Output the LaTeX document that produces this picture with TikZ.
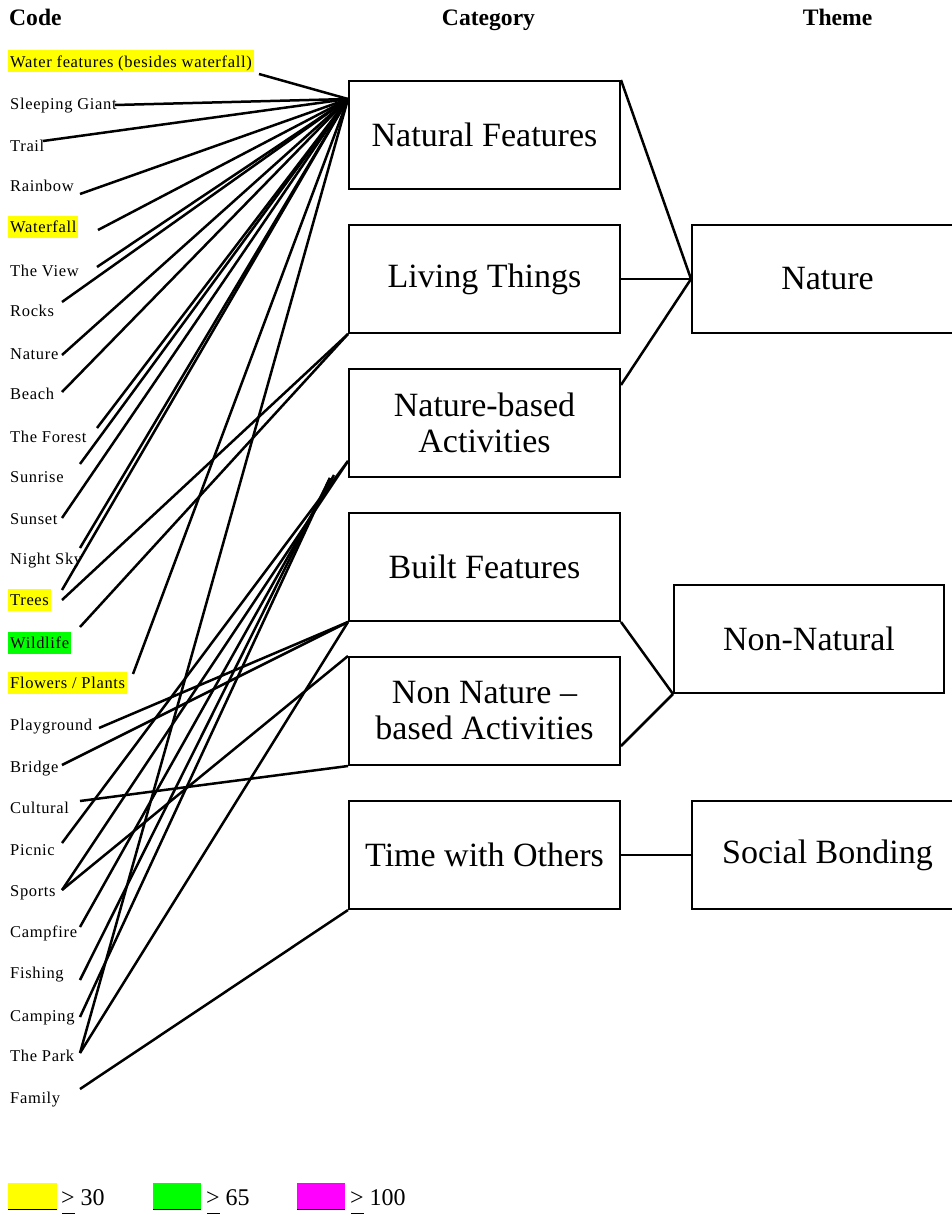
\documentclass[tikz,border=0pt]{standalone}
\usepackage{fontspec}
\setmainfont{Liberation Serif}
\newfontfamily\codefont[LetterSpace=4]{Liberation Serif}
\usetikzlibrary{calc}

\definecolor{hlyellow}{RGB}{255,255,0}
\definecolor{hlgreen}{RGB}{0,255,0}
\definecolor{hlmagenta}{RGB}{255,0,255}

\tikzset{
  catbox/.style={draw, line width=2pt, minimum width=271pt, minimum height=108pt,
    inner sep=0pt, align=center, font=\fontsize{34}{36}\selectfont},
  codelabel/.style={anchor=base west, inner xsep=2pt, inner ysep=1pt,
    text height=15.5pt, text depth=4.5pt, font=\codefont\fontsize{16.5}{18}\selectfont},
  header/.style={anchor=base, font=\bfseries\fontsize{23.6}{26}\selectfont},
  link/.style={line width=2.5pt},
  legendtext/.style={anchor=base west, inner sep=0pt, font=\fontsize{24}{26}\selectfont}
}

\begin{document}
\begin{tikzpicture}[x=1pt,y=-1pt]
\useasboundingbox (0,0) rectangle (952,1215);
\clip (0,0) rectangle (952,1215);

% column headers
\node[header, anchor=base west, inner sep=0pt] (hcode) at (9,26) {Code};
\node[header] (hcat) at (488.5,26) {Category};
\node[header] (htheme) at (837.5,26) {Theme};

% code labels
\node[codelabel, fill=hlyellow] (water) at (8,67) {Water features (besides waterfall)};
\node[codelabel] (giant) at (8,109.5) {Sleeping Giant};
\node[codelabel] (trail) at (8,151.5) {Trail};
\node[codelabel] (rainbow) at (8,191.5) {Rainbow};
\node[codelabel, fill=hlyellow] (waterfall) at (8,232) {Waterfall};
\node[codelabel] (view) at (8,276.5) {The View};
\node[codelabel] (rocks) at (8,316.5) {Rocks};
\node[codelabel] (nature-c) at (8,359.5) {Nature};
\node[codelabel] (beach) at (8,399.5) {Beach};
\node[codelabel] (forest) at (8,442.5) {The Forest};
\node[codelabel] (sunrise) at (8,482.5) {Sunrise};
\node[codelabel] (sunset) at (8,524.5) {Sunset};
\node[codelabel] (nightsky) at (8,564.5) {Night Sky};
\node[codelabel, fill=hlyellow] (trees) at (8,605.5) {Trees};
\node[codelabel, fill=hlgreen] (wildlife) at (8,648) {Wildlife};
\node[codelabel, fill=hlyellow] (flowers) at (8,688.5) {Flowers / Plants};
\node[codelabel] (playground) at (8,730.5) {Playground};
\node[codelabel] (bridge) at (8,772.5) {Bridge};
\node[codelabel] (cultural) at (8,813.5) {Cultural};
\node[codelabel] (picnic) at (8,855.5) {Picnic};
\node[codelabel] (sports) at (8,896.5) {Sports};
\node[codelabel] (campfire) at (8,937.5) {Campfire};
\node[codelabel] (fishing) at (8,978.5) {Fishing};
\node[codelabel] (camping) at (8,1021.5) {Camping};
\node[codelabel] (park) at (8,1061.5) {The Park};
\node[codelabel] (family) at (8,1103.5) {Family};

% category boxes
\node[catbox] (nf) at (484.5,135) {Natural Features};
\node[catbox] (lt) at (484.5,279) {Living Things};
\node[catbox] (nba) at (484.5,423) {Nature-based\\Activities};
\node[catbox] (bf) at (484.5,567) {Built Features};
\node[catbox] (nnba) at (484.5,711) {Non Nature –\\based Activities};
\node[catbox] (two) at (484.5,855) {Time with Others};

% theme boxes
\node[catbox] (nature) at (827.5,279) {Nature};
\node[catbox, minimum width=270pt] (nonnat) at (809,639) {Non-Natural};
\node[catbox] (social) at (827.5,855) {Social Bonding};

% line ends beside the code labels
\coordinate (e-water) at (259,74);
\coordinate (e-giant) at (115,105);
\coordinate (e-trail) at (43,141);
\coordinate (e-rainbow) at (80,194);
\coordinate (e-waterfall) at (98,230);
\coordinate (e-view) at (97,267);
\coordinate (e-rocks) at (62,302);
\coordinate (e-nature) at (62,355);
\coordinate (e-beach) at (62,392);
\coordinate (e-forest) at (97,428);
\coordinate (e-sunrise) at (80,464);
\coordinate (e-sunset) at (62,518);
\coordinate (e-nightsky) at (80,548);
\coordinate (e-trees-a) at (62,590);
\coordinate (e-trees-b) at (62,600);
\coordinate (e-wildlife) at (80,627);
\coordinate (e-flowers) at (133,674);
\coordinate (e-playground) at (99,728);
\coordinate (e-bridge) at (62,765);
\coordinate (e-cultural) at (80,801);
\coordinate (e-picnic) at (62,843);
\coordinate (e-sports) at (62,890);
\coordinate (e-campfire) at (80,927);
\coordinate (e-fishing) at (80,980);
\coordinate (e-camping) at (80,1017);
\coordinate (e-park) at (80,1053);
\coordinate (e-family) at (80,1089);

% meeting points on the category boxes
\coordinate (nf-in) at ($(nf.north west)+(0,19)$);
\coordinate (nba-in) at ($(nba.south west)+(0,-17)$);
\coordinate (nba-low) at ($(nba.south west)+(-18,0)$);

% codes -> Natural Features
\foreach \c in {water,giant,trail,rainbow,waterfall,view,rocks,nature,beach,
                forest,sunrise,sunset,nightsky,trees-a,flowers,park}
  \draw[link] (e-\c) -- (nf-in);

% codes -> Living Things
\draw[link] (e-trees-b) -- (lt.south west);
\draw[link] (e-wildlife) -- (lt.south west);

% codes -> Nature-based Activities
\draw[link] (e-picnic) -- (nba-in);
\draw[link] (e-sports) -- (nba-in);
\draw[link] (e-campfire) -- ($(nba.south west)+(-14,-3)$);
\draw[link] (e-fishing) -- (nba-low);
\draw[link] (e-camping) -- (nba-low);

% codes -> Built Features
\draw[link] (e-playground) -- (bf.south west);
\draw[link] (e-bridge) -- (bf.south west);
\draw[link] (e-park) -- (bf.south west);

% codes -> Non Nature-based Activities
\draw[link] (e-sports) -- (nnba.north west);
\draw[link] (e-cultural) -- (nnba.south west);

% codes -> Time with Others
\draw[link] (e-family) -- (two.south west);

% categories -> themes
\draw[link] (nf.north east) -- (nature.west);
\draw[link] (lt.east) -- (nature.west);
\draw[link] ($(nba.north east)+(0,17)$) -- (nature.west);
\draw[link] (bf.south east) -- (nonnat.south west);
\draw[link] ($(nnba.south east)+(0,-20)$) -- (nonnat.south west);
\draw[link] (two.east) -- (social.west);

% legend
\fill[hlyellow] (8,1183) rectangle (57,1209);
\draw[line width=1pt] (8,1209) -- (57,1209);
\node[legendtext] (l30) at (61,1205) {> 30};
\draw[line width=1.6pt] ($(l30.base west)+(1,8.5)$) -- +(12.5,0);

\fill[hlgreen] (153,1183) rectangle (201,1209);
\draw[line width=1pt] (153,1209) -- (201,1209);
\node[legendtext] (l65) at (206,1205) {> 65};
\draw[line width=1.6pt] ($(l65.base west)+(1,8.5)$) -- +(12.5,0);

\fill[hlmagenta] (297,1183) rectangle (345,1209);
\draw[line width=1pt] (297,1209) -- (345,1209);
\node[legendtext] (l100) at (350,1205) {> 100};
\draw[line width=1.6pt] ($(l100.base west)+(1,8.5)$) -- +(12.5,0);
\end{tikzpicture}
\end{document}
